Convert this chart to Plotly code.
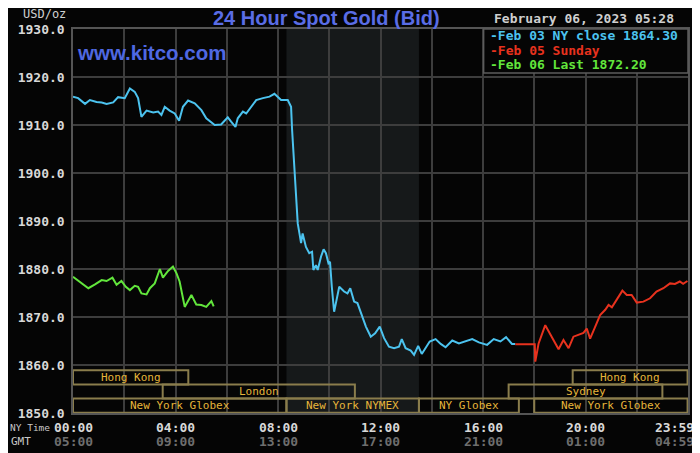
import plotly.graph_objects as go

# hours after midnight NY time, bid price
feb03_hours = [0.00, 0.20, 0.47, 0.66, 0.92, 1.12, 1.31, 1.57, 1.76, 2.02, 2.22, 2.41, 2.54, 2.67,
               2.87, 3.13, 3.32, 3.45, 3.58, 3.77, 3.97, 4.14, 4.29, 4.49, 4.75, 5.01, 5.20, 5.53,
               5.78, 6.04, 6.17, 6.34, 6.43, 6.63, 6.76, 6.95, 7.15, 7.41, 7.67, 7.86, 8.12, 8.38,
               8.51, 8.55, 8.60, 8.64, 8.70, 8.77, 8.86, 8.90, 8.96, 9.09, 9.22, 9.33, 9.38, 9.48,
               9.55, 9.68, 9.78, 9.87, 9.97, 10.03, 10.10, 10.19, 10.26, 10.39, 10.58, 10.71, 10.82,
               10.97, 11.10, 11.23, 11.43, 11.62, 11.79, 11.97, 12.14, 12.33, 12.53, 12.72, 12.83,
               12.98, 13.18, 13.31, 13.47, 13.61, 13.76, 13.92, 14.15, 14.35, 14.54, 14.80, 15.06,
               15.32, 15.58, 15.84, 16.16, 16.42, 16.68, 16.90, 17.13, 17.26]
feb03_price = [1915.9, 1915.6, 1914.4, 1915.2, 1914.8, 1914.7, 1914.4, 1914.7, 1915.8, 1915.6, 1917.6,
               1916.9, 1915.6, 1911.7, 1913.0, 1912.6, 1912.8, 1912.1, 1913.8, 1913.0, 1912.4, 1910.9,
               1913.8, 1915.1, 1914.5, 1913.1, 1911.4, 1910.0, 1910.1, 1911.6, 1910.7, 1909.6, 1911.4,
               1912.8, 1912.4, 1913.7, 1915.2, 1915.6, 1915.9, 1916.5, 1915.2, 1915.2, 1913.8, 1909.0,
               1904.8, 1899.9, 1894.4, 1889.5, 1886.7, 1885.4, 1887.4, 1884.6, 1883.3, 1883.6, 1879.8,
               1880.8, 1879.8, 1882.6, 1884.1, 1883.3, 1881.2, 1881.5, 1876.3, 1871.1, 1872.9, 1876.3,
               1875.3, 1874.9, 1876.0, 1873.2, 1872.9, 1870.8, 1868.0, 1865.9, 1866.6, 1868.0, 1865.6,
               1863.8, 1863.5, 1863.8, 1865.4, 1863.5, 1863.0, 1862.1, 1864.0, 1862.3, 1863.5, 1864.9,
               1865.4, 1864.4, 1863.7, 1865.1, 1864.5, 1864.9, 1865.4, 1864.7, 1864.2, 1865.4, 1864.9,
               1865.8, 1864.4, 1864.4]

feb05_hours = [17.26, 18.02, 18.04, 18.17, 18.43, 18.69, 18.95, 19.14, 19.34, 19.53, 19.73, 19.92,
               20.05, 20.18, 20.38, 20.57, 20.77, 20.90, 21.03, 21.22, 21.44, 21.61, 21.80, 22.00,
               22.26, 22.52, 22.77, 23.04, 23.30, 23.49, 23.68, 23.81, 23.98]
feb05_price = [1864.3, 1864.3, 1860.7, 1864.5, 1868.3, 1865.9, 1863.3, 1865.2, 1863.5, 1865.9, 1866.3,
               1866.7, 1867.6, 1865.5, 1868.0, 1870.4, 1871.5, 1872.5, 1872.0, 1873.7, 1875.5, 1874.6,
               1874.6, 1873.0, 1873.2, 1873.9, 1875.3, 1876.0, 1877.0, 1876.9, 1877.4, 1876.9, 1877.5]

feb06_hours = [0.00, 0.27, 0.60, 0.86, 1.12, 1.31, 1.54, 1.70, 1.89, 2.06, 2.22, 2.41, 2.54, 2.67,
               2.87, 3.00, 3.19, 3.39, 3.51, 3.71, 3.90, 4.04, 4.16, 4.36, 4.62, 4.81, 5.01, 5.20,
               5.40, 5.49]
feb06_price = [1878.4, 1877.4, 1876.0, 1876.8, 1877.7, 1877.5, 1878.2, 1876.7, 1877.5, 1876.3, 1875.6,
               1876.5, 1876.3, 1874.9, 1874.7, 1876.0, 1877.0, 1880.0, 1878.2, 1879.6, 1880.5, 1879.1,
               1877.4, 1872.1, 1874.6, 1872.6, 1872.5, 1872.1, 1873.3, 1872.2]

series_names = ["Feb 03 NY close 1864.30", "Feb 05 Sunday", "Feb 06 Last 1872.20"]
series_colors = ["#4cc3ef", "#e8321e", "#62e63c"]

tick_hours = [0, 4, 8, 12, 16, 20, 23.983]
ny_labels = ["00:00", "04:00", "08:00", "12:00", "16:00", "20:00", "23:59"]
gmt_labels = ["05:00", "09:00", "13:00", "17:00", "21:00", "01:00", "04:59"]

# trading sessions: name, start hour, end hour, row (0 = top)
session_names = ["Hong Kong", "Hong Kong", "London", "Sydney",
                 "New York Globex", "New York NYMEX", "NY Globex", "New York Globex"]
session_start = [0, 19.5, 3.5, 17.0, 0, 8.33, 13.5, 18.0]
session_end = [4.5, 23.983, 11.0, 23.0, 8.33, 13.5, 17.4, 23.983]
session_row = [0, 0, 1, 1, 2, 2, 2, 2]

nymex_open, nymex_close = 8.33, 13.5

BG = "#050505"
GRID = "#3d3d3d"
MONO = "DejaVu Sans Mono"
BLUE_TXT = "#5a6de6"

fig = go.Figure()
for hrs, px, name, col in zip([feb03_hours, feb05_hours, feb06_hours],
                              [feb03_price, feb05_price, feb06_price],
                              series_names, series_colors):
    fig.add_trace(go.Scatter(x=hrs, y=px, mode="lines", name=name,
                             line=dict(color=col, width=2), hoverinfo="skip"))

shapes = [dict(type="rect", xref="x", yref="paper", x0=nymex_open, x1=nymex_close, y0=0, y1=1,
               fillcolor="#16191a", line=dict(width=0), layer="below")]
annotations = []
row_h = 2.95
for name, s, e, r in zip(session_names, session_start, session_end, session_row):
    top = 1858.9 - r * row_h
    bot = top - row_h
    shapes.append(dict(type="rect", xref="x", yref="y", x0=s, x1=e, y0=max(bot, 1850.05), y1=top,
                       line=dict(color="#8a7d4c", width=2), fillcolor="rgba(0,0,0,0)", layer="above"))
    annotations.append(dict(x=(s + e) / 2, y=(top + bot) / 2, xref="x", yref="y", text=name,
                            showarrow=False, font=dict(family=MONO, size=11, color="#e6b53a")))

# legend box
shapes.append(dict(type="rect", xref="paper", yref="paper", x0=0.6677, x1=1.0, y0=0.8854, y1=1.0,
                   fillcolor=BG, line=dict(color="#5c5c5c", width=1.5), layer="above"))
for i, (name, col) in enumerate(zip(series_names, series_colors)):
    annotations.append(dict(x=0.6677, y=1.0 - (7 + 14 * i) / 384, xref="paper", yref="paper",
                            xanchor="left", yanchor="middle", xshift=4, text="-" + name,
                            showarrow=False,
                            font=dict(family=MONO, size=13, color=col, weight="bold")))

# time labels under the axis: NY time row and GMT row
last = len(tick_hours) - 1
for i, (h, ny, gmt) in enumerate(zip(tick_hours, ny_labels, gmt_labels)):
    shift = -13 if i == last else 0
    annotations.append(dict(x=h, y=-14 / 384, xref="x", yref="paper", text=ny, showarrow=False,
                            yanchor="middle", xshift=shift,
                            font=dict(family=MONO, size=13, color="#d8d8d8", weight="bold")))
    annotations.append(dict(x=h, y=-28 / 384, xref="x", yref="paper", text=gmt, showarrow=False,
                            yanchor="middle", xshift=shift,
                            font=dict(family=MONO, size=13, color="#6e6e6e", weight="bold")))

annotations += [
    dict(x=0, y=-14 / 384, xref="paper", yref="paper", xanchor="right", yanchor="middle", xshift=-22,
         text="NY Time", showarrow=False, borderpad=0,
         font=dict(family=MONO, size=9.5, color="#c8c8c8")),
    dict(x=0, y=-28 / 384, xref="paper", yref="paper", xanchor="right", yanchor="middle", xshift=-40,
         text="GMT", showarrow=False, font=dict(family=MONO, size=11, color="#c8c8c8")),
    dict(x=0, y=1 + 15 / 384, xref="paper", yref="paper", xanchor="right", yanchor="middle", xshift=-5,
         text="USD/oz", showarrow=False, font=dict(family=MONO, size=12, color="#d0d0d0")),
    dict(x=0.4117, y=1 + 11 / 384, xref="paper", yref="paper", xanchor="center", yanchor="middle",
         text="24 Hour Spot Gold (Bid)", showarrow=False, borderpad=0,
         font=dict(family="Liberation Sans", size=20, color=BLUE_TXT, weight="bold")),
    dict(x=0.003, y=1 - 23 / 384, xref="paper", yref="paper", xanchor="left", yanchor="middle",
         text="www.kitco.com", showarrow=False,
         font=dict(family="Liberation Sans", size=20.5, color="#4f68e2", weight="bold")),
    dict(x=0.9806, y=1 + 11 / 384, xref="paper", yref="paper", xanchor="right", yanchor="middle",
         text="February 06, 2023 05:28", showarrow=False,
         font=dict(family=MONO, size=13, color="#cfcfcf", weight="bold")),
]

# page body has an 8px margin, so the figure is sized to sit inside the 700x453 window
fig.update_layout(
    width=692, height=445, autosize=False,
    margin=dict(l=65, r=10, t=21, b=40),
    paper_bgcolor=BG, plot_bgcolor=BG,
    showlegend=False, hovermode=False,
    shapes=shapes, annotations=annotations,
)
fig.update_xaxes(range=[0, 24], tickvals=tick_hours, showticklabels=False, ticks="",
                 showgrid=True, gridcolor=GRID, gridwidth=1.5, zeroline=False,
                 minor=dict(dtick=2, tick0=0, showgrid=True, gridcolor=GRID, gridwidth=1.5),
                 showline=True, linecolor="#555555", linewidth=1.5, mirror=True)
fig.update_yaxes(range=[1850, 1930], dtick=10, tick0=1850, tickformat=".1f", ticks="",
                 showgrid=True, gridcolor=GRID, gridwidth=1.5, zeroline=False,
                 showline=True, linecolor="#555555", linewidth=1.5, mirror=True,
                 ticklabelstandoff=4,
                 tickfont=dict(family=MONO, size=13, color="#d8d8d8", weight="bold"))

fig.write_html("out.html")
